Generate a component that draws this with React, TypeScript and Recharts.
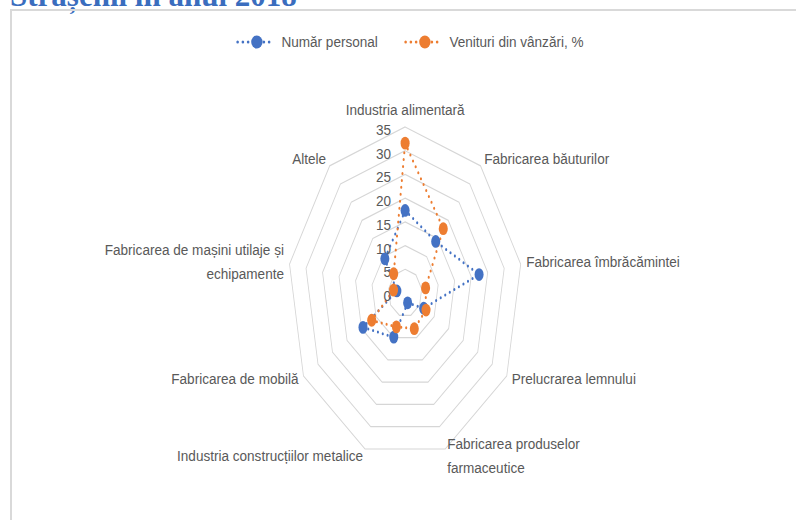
import React from 'react';
import { RadarChart, Radar, PolarGrid, PolarAngleAxis, PolarRadiusAxis } from 'recharts';

const title = 'Strășenii în anul 2018';

const categories = [
  'Industria alimentară',
  'Fabricarea băuturilor',
  'Fabricarea îmbrăcămintei',
  'Prelucrarea lemnului',
  'Fabricarea produselor\nfarmaceutice',
  'Industria construcțiilor metalice',
  'Fabricarea de mobilă',
  'Fabricarea de mașini utilaje și\nechipamente',
  'Altele',
];

const numarPersonal = [17.4, 14.2, 22.4, 6.4, 2.2, 9.9, 14.5, 2.5, 9.4];
const venituriVanzari = [31.6, 17.7, 6.2, 7.2, 8.0, 7.6, 11.5, 3.5, 5.3];

const seriesNames = ['Număr personal', 'Venituri din vânzări, %'];
const seriesKeys = ['personal', 'venituri'];
const seriesColors = ['#4472C4', '#ED7D31'];

const radiusDomain = [0, 35];
const radiusTickCount = 8;

// the picture is squeezed sideways, so the chart is drawn wide and squeezed back
const SQ = 0.707;
const TX = 0.875 / SQ; // text is squeezed less than the plot
const W = 1126;
const H = 520;
const FONT = "'Liberation Sans', Arial, sans-serif";
const TEXT_COLOR = '#595959';

const chartData = categories.map((c, i) => ({
  category: c,
  personal: numarPersonal[i],
  venituri: venituriVanzari[i],
}));

const AngleTick = (props: any) => {
  const { x, y, payload, textAnchor } = props;
  const lines = String(payload.value).split('\n');
  let first: number;
  if (textAnchor === 'middle') first = -4;
  else if (lines.length > 1) first = -8;
  else first = 4;
  return (
    <g transform={`translate(${x},${y}) scale(${TX},1)`}>
      <text textAnchor={textAnchor} fill={TEXT_COLOR} fontSize={15.5} fontFamily={FONT}>
        {lines.map((l, i) => (
          <tspan key={i} x={0} y={first + i * 24}>
            {l}
          </tspan>
        ))}
      </text>
    </g>
  );
};

const RadiusTick = (props: any) => {
  const { x, y, payload } = props;
  return (
    <g transform={`translate(${x - 20},${y + 8}) scale(${TX},1)`}>
      <text textAnchor="end" fill={TEXT_COLOR} fontSize={15.5} fontFamily={FONT}>
        {payload.value}
      </text>
    </g>
  );
};

const LegendItem = ({ left, color, name }: { left: number; color: string; name: string }) => (
  <div style={{ position: 'absolute', left, top: 0, height: 20, whiteSpace: 'nowrap' }}>
    <svg width={46} height={20} style={{ position: 'absolute', left: 0, top: 0 }}>
      <line x1={3} y1={10} x2={44} y2={10} stroke={color} strokeWidth={3} strokeDasharray="0 6" strokeLinecap="round" />
      <circle cx={25} cy={10} r={6.5} fill={color} />
    </svg>
    <span style={{ position: 'absolute', left: 53, top: 0, lineHeight: '20px' }}>{name}</span>
  </div>
);

export default function App() {
  return (
    <div style={{ position: 'absolute', left: 0, top: 0, width: 796, height: 520, overflow: 'hidden', background: '#fff' }}>
      <svg width={796} height={14} style={{ position: 'absolute', left: 0, top: 0 }}>
        <text x={10} y={6} fontFamily="'Liberation Serif', serif" fontWeight="bold" fontSize={31} fill="#3A6DBE">
          {title}
        </text>
      </svg>
      <div style={{ position: 'absolute', left: 10, top: 9, width: 820, height: 540, border: '2px solid #d9d9d9', boxSizing: 'border-box' }} />
      <div
        style={{
          position: 'absolute',
          left: 235,
          top: 32,
          width: 420,
          height: 20,
          transform: 'scaleX(0.875)',
          transformOrigin: '0 0',
          fontFamily: FONT,
          fontSize: 15.5,
          color: TEXT_COLOR,
        }}
      >
        <LegendItem left={0} color={seriesColors[0]} name={seriesNames[0]} />
        <LegendItem left={192} color={seriesColors[1]} name={seriesNames[1]} />
      </div>
      <div style={{ position: 'absolute', left: 0, top: 0, width: W, height: H, transform: `scaleX(${SQ})`, transformOrigin: '0 0' }}>
        <RadarChart width={W} height={H} data={chartData} cx={573} cy={293} outerRadius={166} margin={{ top: 0, right: 0, bottom: 0, left: 0 }}>
          <PolarGrid gridType="polygon" radialLines={false} stroke="#d6d6d6" strokeWidth={1.2} />
          <PolarAngleAxis dataKey="category" tick={AngleTick} tickLine={false} axisLine={false} tickSize={8} />
          <PolarRadiusAxis
            angle={90}
            domain={radiusDomain}
            tickCount={radiusTickCount}
            type="number"
            axisLine={false}
            tickLine={false}
            tick={RadiusTick}
          />
          {seriesKeys.map((k, i) => (
            <Radar
              key={k}
              name={seriesNames[i]}
              dataKey={k}
              stroke={seriesColors[i]}
              strokeWidth={3}
              strokeDasharray="0 7"
              strokeLinecap="round"
              fill="none"
              fillOpacity={0}
              dot={(p: any) => (
                <circle key={`${k}-${p.index}`} cx={p.cx} cy={p.cy} r={6.4} fill={seriesColors[i]} stroke="none" />
              )}
              isAnimationActive={false}
            />
          ))}
        </RadarChart>
      </div>
    </div>
  );
}
